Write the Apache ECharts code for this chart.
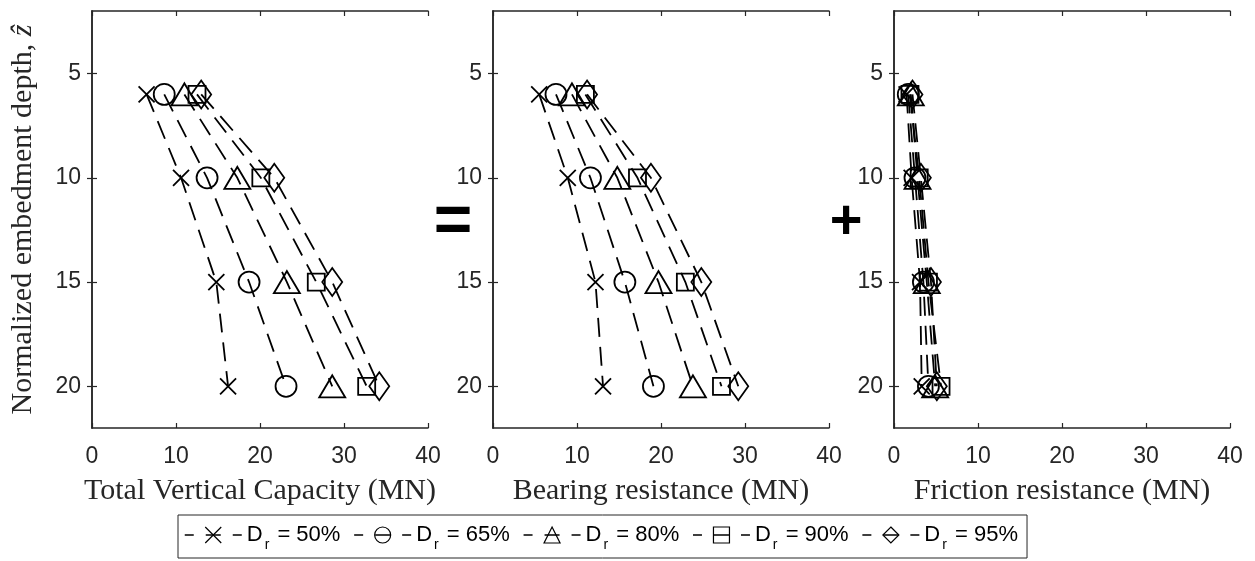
<!DOCTYPE html>
<html><head><meta charset="utf-8">
<script src="https://cdn.jsdelivr.net/npm/echarts@6/dist/echarts.min.js"></script>
<style>html,body{margin:0;padding:0;background:#fff}#c{width:1255px;height:561px}</style>
</head><body><div id="c"></div>
<script>
// ---- data ----
const depths = [6, 10, 15, 20];
const yTicks = [5, 10, 15, 20];
const seriesNames = ['50%', '65%', '80%', '90%', '95%'];
const xAxisNames = ['Total Vertical Capacity (MN)', 'Bearing resistance (MN)', 'Friction resistance (MN)'];
const yAxisName = 'Normalized embedment depth, ';

const total50 = [6.5, 10.6, 14.8, 16.2];
const total65 = [8.6, 13.7, 18.7, 23.1];
const total80 = [11.0, 17.3, 23.2, 28.6];
const total90 = [12.5, 20.1, 26.7, 32.7];
const total95 = [13.0, 21.7, 28.6, 34.2];

const bearing50 = [5.5, 8.9, 12.2, 13.1];
const bearing65 = [7.5, 11.6, 15.7, 19.1];
const bearing80 = [9.4, 14.8, 19.7, 23.8];
const bearing90 = [11.0, 17.2, 22.9, 27.2];
const bearing95 = [11.2, 18.8, 24.8, 29.2];

const friction50 = [1.5, 2.1, 3.1, 3.3];
const friction65 = [1.7, 2.5, 3.5, 4.1];
const friction80 = [2.0, 2.8, 3.9, 4.9];
const friction90 = [1.9, 3.0, 4.1, 5.6];
const friction95 = [2.2, 3.2, 4.4, 5.1];

const panels = [
  [total50, total65, total80, total90, total95],
  [bearing50, bearing65, bearing80, bearing90, bearing95],
  [friction50, friction65, friction80, friction90, friction95]
];

// ---- styles ----
const symbols = ['path://M0,0L10,10M10,0L0,10', 'circle', 'triangle', 'rect', 'diamond'];
const symbolSizes = [16, 21, [26, 22], 17, [20, 28]];
const gridLefts = [92, 493, 894];
const axisColor = '#262626';
const tickFont = {fontFamily: 'Liberation Sans', fontSize: 23, color: axisColor};
const serifFont = 'Liberation Serif';

const grids = [], xAxes = [], yAxes = [], series = [];
gridLefts.forEach((l, i) => {
  grids.push({left: l, top: 11, width: 336, height: 417});
  const lineS = {show: true, lineStyle: {color: axisColor, width: 1.5}};
  xAxes.push({
    type: 'value', gridIndex: i, position: 'bottom', min: 0, max: 40, interval: 10,
    axisLine: lineS, axisTick: {inside: true, length: 5, lineStyle: {color: axisColor, width: 1.2}},
    axisLabel: Object.assign({margin: 17}, tickFont), splitLine: {show: false},
    name: xAxisNames[i], nameLocation: 'middle', nameGap: 48,
    nameTextStyle: {fontFamily: serifFont, fontSize: 30, color: axisColor}
  });
  xAxes.push({
    type: 'value', gridIndex: i, position: 'top', min: 0, max: 40, interval: 10,
    axisLine: lineS, axisTick: {inside: true, length: 5, lineStyle: {color: axisColor, width: 1.2}},
    axisLabel: {show: false}, splitLine: {show: false}
  });
  const yL = {
    type: 'value', gridIndex: i, position: 'left', inverse: true, min: 2, max: 22,
    axisLine: lineS,
    axisTick: {inside: true, length: 5, customValues: yTicks, lineStyle: {color: axisColor, width: 1.2}},
    axisLabel: Object.assign({margin: 11, customValues: yTicks}, tickFont), splitLine: {show: false}
  };
  if (i === 0) {
    yL.name = yAxisName + '{z|ẑ}';
    yL.nameLocation = 'middle';
    yL.nameGap = 54;
    yL.nameTextStyle = {fontFamily: serifFont, fontSize: 30, color: axisColor,
      rich: {z: {fontFamily: serifFont, fontSize: 30, fontStyle: 'italic', color: axisColor}}};
  }
  yAxes.push(yL);
  yAxes.push({
    type: 'value', gridIndex: i, position: 'right', inverse: true, min: 2, max: 22,
    axisLine: lineS,
    axisTick: {inside: true, length: 5, customValues: yTicks, lineStyle: {color: axisColor, width: 1.2}},
    axisLabel: {show: false}, splitLine: {show: false}
  });
  panels[i].forEach((vals, k) => {
    series.push({
      type: 'line', name: seriesNames[k], xAxisIndex: 2 * i, yAxisIndex: 2 * i,
      data: vals.map((v, j) => [v, depths[j]]),
      symbol: symbols[k], symbolSize: symbolSizes[k], showAllSymbol: true,
      lineStyle: {color: '#000', width: 1.8, type: [19, 10]},
      itemStyle: {color: 'none', borderColor: '#000', borderWidth: 1.8},
      emphasis: {disabled: true}, animation: false
    });
  });
});

const chart = echarts.init(document.getElementById('c'), null, {renderer: 'canvas'});
chart.setOption({
  backgroundColor: '#fff',
  animation: false,
  grid: grids, xAxis: xAxes, yAxis: yAxes, series: series,
  legend: {
    data: seriesNames, left: 178, top: 515, orient: 'horizontal',
    padding: [9, 9, 6, 6], itemGap: 13, itemWidth: 57, itemHeight: 20,
    borderColor: axisColor, borderWidth: 1, backgroundColor: '#fff',
    selectedMode: false,
    lineStyle: {color: '#000', width: 1.5, type: [9, 12, 15, 12]},
    itemStyle: {color: 'none', borderColor: '#000', borderWidth: 1.2},
    formatter: n => '{a|D}{b|r}{a| = ' + n + '}',
    textStyle: {fontFamily: 'Liberation Sans', fontSize: 22, color: '#000',
      rich: {a: {fontFamily: 'Liberation Sans', fontSize: 22, color: '#000'},
             b: {fontFamily: 'Liberation Sans', fontSize: 14, color: '#000', padding: [20, 2, 0, 2]}}}
  },
  graphic: [
    {type: 'text', x: 453, y: 224, style: {text: '=', fontFamily: 'Liberation Sans', fontWeight: 'bold', fontSize: 66, fill: '#000', align: 'center', verticalAlign: 'middle'}},
    {type: 'text', x: 846, y: 223, style: {text: '+', fontFamily: 'Liberation Sans', fontWeight: 'bold', fontSize: 56, fill: '#000', align: 'center', verticalAlign: 'middle'}}
  ]
});
</script></body></html>
